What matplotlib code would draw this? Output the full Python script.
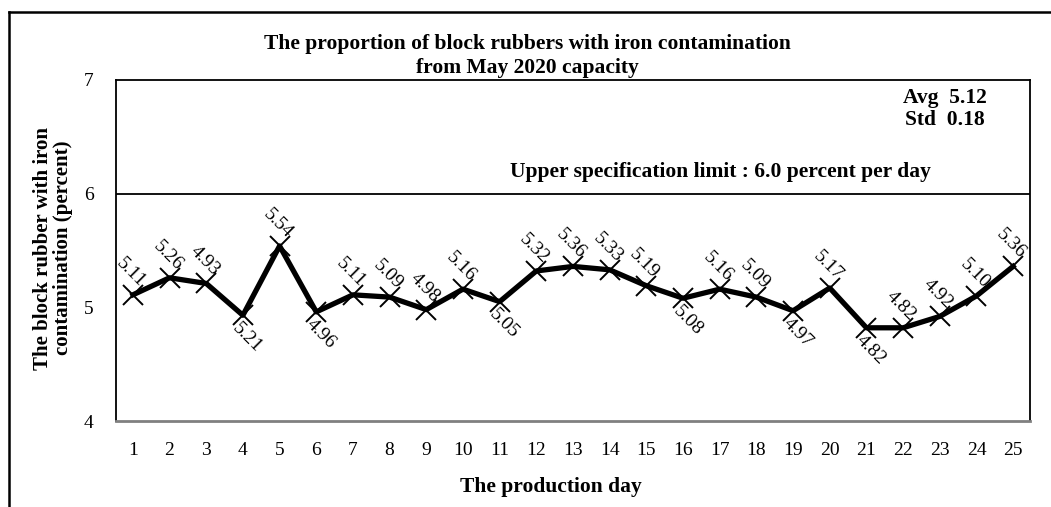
import matplotlib
matplotlib.use("Agg")
import matplotlib.pyplot as plt
from matplotlib.lines import Line2D

plt.rcParams['font.family'] = ['Liberation Serif', 'DejaVu Serif']

# production days and daily proportion (percent)
days = list(range(1, 26))
values = [5.11, 5.26, 5.21, 4.93, 5.54, 4.96, 5.11, 5.09, 4.98, 5.16, 5.05, 5.32, 5.36,
          5.33, 5.19, 5.08, 5.16, 5.09, 4.97, 5.17, 4.82, 4.82, 4.92, 5.10, 5.36]
# data labels as printed on the chart
labels = ["5.11", "5.26", "4.93", "5.21", "5.54", "4.96", "5.11", "5.09", "4.98", "5.16",
          "5.05", "5.32", "5.36", "5.33", "5.19", "5.08", "5.16", "5.09", "4.97", "5.17",
          "4.82", "4.82", "4.92", "5.10", "5.36"]
below = [4, 6, 11, 16, 19, 21]
usl = 6.0
avg = 5.12
std = 0.18

fig = plt.figure(figsize=(10.51, 5.07), dpi=100)
ax = fig.add_axes([116/1051, 1 - 421/507, (1030-116)/1051, (421-80)/507])

ax.plot(days, values, color='black', lw=3.8, marker='x', ms=15, mew=1.4, mec='black')
ax.axhline(usl, color='black', lw=1.3)

for d, v, s in zip(days, values, labels):
    if d in below:
        ax.annotate(s, (d, v), xytext=(-1, -3), textcoords='offset points',
                    rotation=-45, rotation_mode='anchor', ha='left', va='top', fontsize=14)
    else:
        ax.annotate(s, (d, v), xytext=(3, 3), textcoords='offset points',
                    rotation=-45, rotation_mode='anchor', ha='right', va='bottom', fontsize=14)

ax.set_xlim(0.54, 25.46)
ax.set_ylim(4, 7)
ax.set_xticks(days)
ax.set_yticks([4, 5, 6, 7])
ax.tick_params(axis='both', length=0, labelsize=14)
ax.tick_params(axis='x', pad=15)
ax.tick_params(axis='y', pad=16)

for side in ['left', 'top', 'right']:
    ax.spines[side].set_linewidth(1.3)
ax.spines['bottom'].set_color('#808080')
ax.spines['bottom'].set_linewidth(2)

ax.text(945/1051, 1 - 98/507, f"Avg  {avg:.2f}", transform=fig.transFigure,
        ha='center', va='center', fontsize=15.5, fontweight='bold')
ax.text(945/1051, 1 - 120/507, f"Std  {std:.2f}", transform=fig.transFigure,
        ha='center', va='center', fontsize=15.5, fontweight='bold')
ax.text(720/1051, 1 - 172/507, "Upper specification limit : 6.0 percent per day",
        transform=fig.transFigure, ha='center', va='center', fontsize=15.5, fontweight='bold')

fig.text(527/1051, 1 - 56/507,
         "The proportion of block rubbers with iron contamination\nfrom May 2020 capacity",
         ha='center', va='center', fontsize=15.5, fontweight='bold', linespacing=1.2)
fig.text(53/1051, 1 - 248/507, "The block rubber with iron\ncontamination (percent)",
         rotation=90, ha='center', va='center', fontsize=15, fontweight='bold',
         linespacing=1.0)
fig.text(551/1051, 1 - 487/507, "The production day", ha='center', va='center',
         fontsize=15.5, fontweight='bold')

# outer frame (left and top edges)
fig.add_artist(Line2D([9/1051, 9/1051], [0, 1 - 12/507], color='black', lw=1.8))
fig.add_artist(Line2D([9/1051, 1], [1 - 12/507, 1 - 12/507], color='black', lw=1.8))

fig.savefig("out.png", dpi=100)
